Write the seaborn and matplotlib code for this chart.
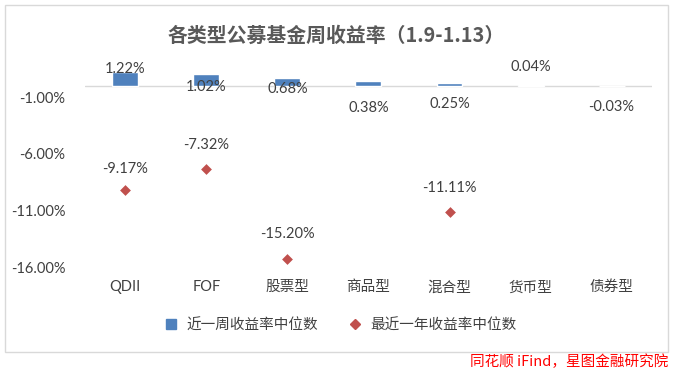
import pandas as pd
import numpy as np
import matplotlib.pyplot as plt
import seaborn as sns
from matplotlib.lines import Line2D
from matplotlib.patches import Rectangle

categorias = ['QDII', 'FOF', '股票型', '商品型', '混合型', '货币型', '债券型']
semana = [1.22, 1.02, 0.68, 0.38, 0.25, 0.04, -0.03]
anual = [-9.17, -7.32, -15.20, np.nan, -11.11, np.nan, np.nan]
y_ticks = [-1, -6, -11, -16]

# desplazamiento de etiquetas (px, hacia arriba) copiado del grafico original
off_semana = [3, -13, -11, -27, -21, 18, -21]
off_anual = [21, 24, 25, 0, 24, 0, 0]

AZUL = '#4F81BD'
ROJO = '#C0504D'
GRIS = '#404040'

sns.set_theme(style="white")
plt.rcParams['font.family'] = ['Lato', 'Noto Sans CJK SC', 'DejaVu Sans']

df = pd.DataFrame({'tipo': categorias, 'semana': semana, 'anual': anual})

fig = plt.figure(figsize=(6.73, 3.71), dpi=100)
ax = fig.add_axes([0.126, 0.278, 0.843, 0.614])

sns.barplot(data=df, x='tipo', y='semana', color=AZUL, width=0.32,
            saturation=1, ax=ax)
sns.stripplot(data=df, x='tipo', y='anual', color=ROJO, marker='D', size=5.5,
              jitter=False, ax=ax)

ax.set_ylim(-16, 4)
ax.set_xlim(-0.5, 6.5)
ax.set_yticks(y_ticks)
ax.set_yticklabels([f'{v:.2f}%' for v in y_ticks], fontsize=10.5, color=GRIS)
ax.tick_params(axis='y', length=0, pad=14)
ax.tick_params(axis='x', length=0, labelsize=10, labelcolor=GRIS)
ax.set_xlabel('')
ax.set_ylabel('')
for s in ax.spines.values():
    s.set_visible(False)
ax.axhline(0, color='#D9D9D9', lw=1, zorder=0)

# etiquetas del eje x abajo (posicion "baja" como en Excel)
ax.set_xticks(range(len(categorias)))
ax.set_xticklabels([])
for i, c in enumerate(categorias):
    ax.annotate(c, (i, -16), xytext=(0, -14), textcoords='offset points',
                ha='center', va='center', fontsize=10.5, color=GRIS)

for i, v in enumerate(semana):
    ax.annotate(f'{v:.2f}%', (i, v), xytext=(0, off_semana[i] / 1.389),
                textcoords='offset points', ha='center', va='center',
                fontsize=10.5, color=GRIS)
for i, v in enumerate(anual):
    if not np.isnan(v):
        ax.annotate(f'{v:.2f}%', (i, v), xytext=(0, off_anual[i] / 1.389),
                    textcoords='offset points', ha='center', va='center',
                    fontsize=10.5, color=GRIS)

fig.text(0.5, 0.905, '各类型公募基金周收益率（1.9-1.13）', ha='center', va='center',
         fontsize=14.3, fontweight='bold', color='#595959',
         family=['Noto Sans CJK SC', 'DejaVu Sans'])

handles = [Line2D([], [], marker='s', color=AZUL, ls='', markersize=7),
           Line2D([], [], marker='D', color=ROJO, ls='', markersize=5)]
fig.legend(handles, ['近一周收益率中位数', '最近一年收益率中位数'], loc='center',
           bbox_to_anchor=(0.5, 0.123), ncol=2, frameon=False,
           handletextpad=0.1, columnspacing=1.5, labelcolor=GRIS,
           prop={'family': ['Noto Sans CJK SC'], 'size': 10.5})

fig.patches.append(Rectangle((0.007, 0.052), 0.985, 0.935, transform=fig.transFigure,
                             fill=False, edgecolor='#D9D9D9', lw=1))
fig.text(0.993, 0.025, '同花顺 iFind，星图金融研究院', ha='right', va='center',
         fontsize=10.5, color='#FF0000', style='italic',
         family=['Noto Sans CJK SC', 'DejaVu Sans'])

fig.savefig('out.png', dpi=100)
